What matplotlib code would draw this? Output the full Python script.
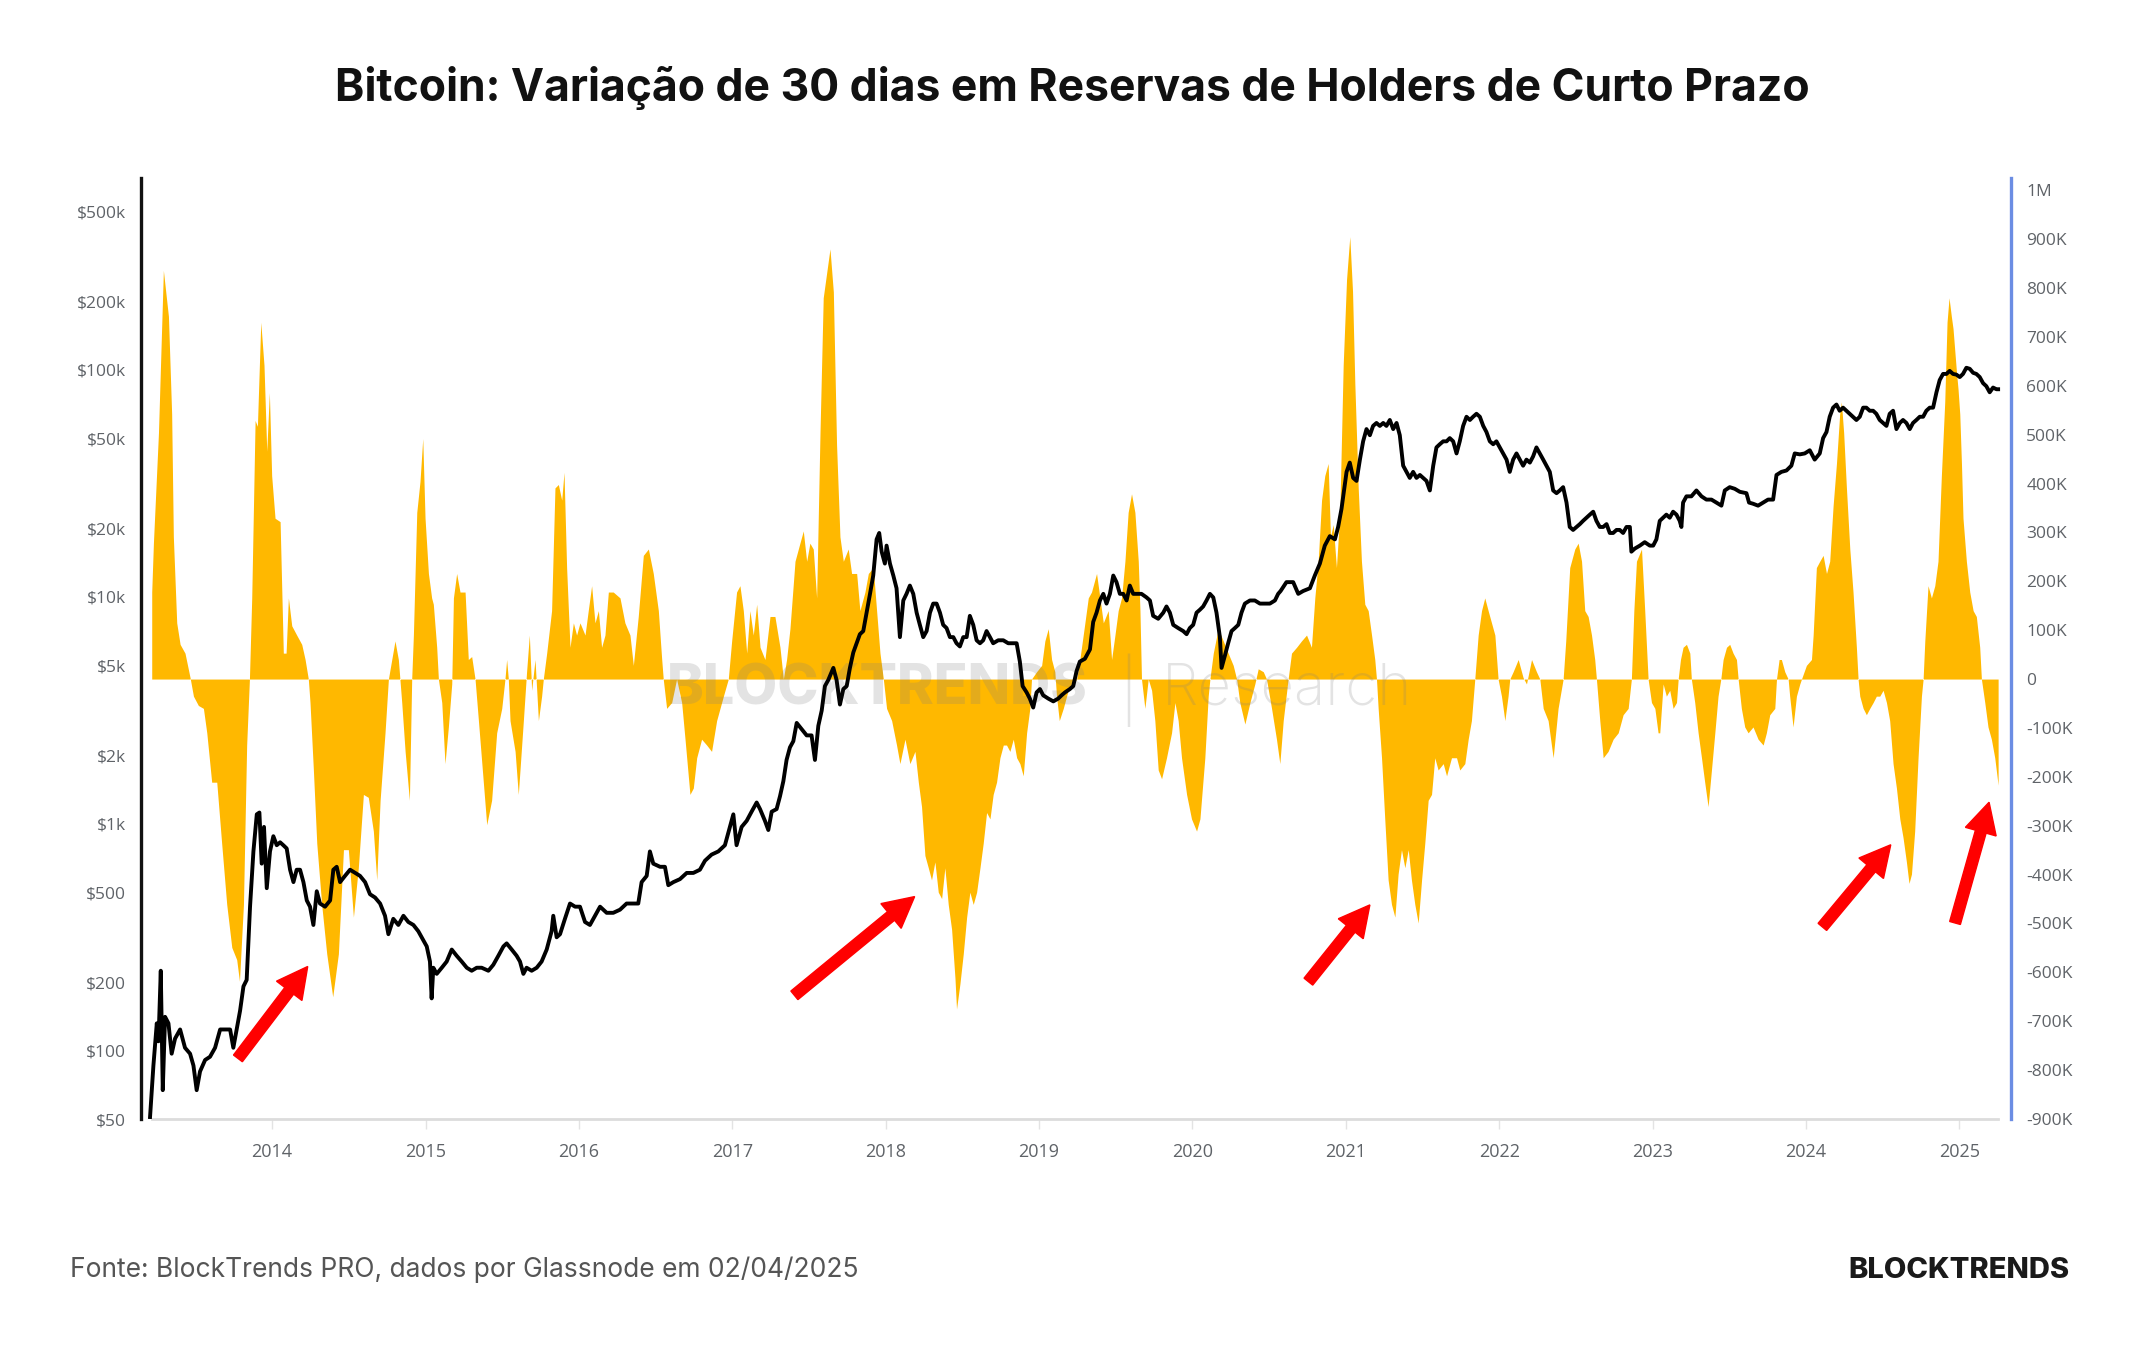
import matplotlib
matplotlib.use("Agg")
import matplotlib.pyplot as plt
from matplotlib.patches import FancyArrowPatch, ArrowStyle
from matplotlib.ticker import FixedLocator, NullLocator, FuncFormatter

plt.rcParams["font.family"] = ["Open Sans", "DejaVu Sans"]

TITLE = "Bitcoin: Variação de 30 dias em Reservas de Holders de Curto Prazo"
SOURCE = "Fonte: BlockTrends PRO, dados por Glassnode em 02/04/2025"

# 30-day change in short-term holder reserves (thousands of BTC), x in decimal years
sth_year = [
    2013.215, 2013.226, 2013.259, 2013.291, 2013.324, 2013.345, 2013.356, 2013.378, 2013.400, 2013.432,
    2013.465, 2013.487, 2013.519, 2013.552, 2013.574, 2013.606, 2013.639, 2013.671, 2013.704, 2013.737,
    2013.769, 2013.787, 2013.813, 2013.834, 2013.852, 2013.867, 2013.889, 2013.904, 2013.926, 2013.947,
    2013.965, 2013.982, 2013.997, 2014.019, 2014.052, 2014.073, 2014.091, 2014.106, 2014.128, 2014.160,
    2014.193, 2014.215, 2014.236, 2014.247, 2014.269, 2014.291, 2014.323, 2014.356, 2014.395, 2014.432,
    2014.465, 2014.497, 2014.530, 2014.562, 2014.595, 2014.627, 2014.660, 2014.682, 2014.704, 2014.736,
    2014.758, 2014.780, 2014.801, 2014.823, 2014.845, 2014.867, 2014.895, 2014.910, 2014.921, 2014.943,
    2014.964, 2014.982, 2014.997, 2015.019, 2015.040, 2015.051, 2015.073, 2015.084, 2015.106, 2015.127,
    2015.149, 2015.171, 2015.182, 2015.203, 2015.225, 2015.258, 2015.279, 2015.301, 2015.323, 2015.345,
    2015.377, 2015.399, 2015.431, 2015.464, 2015.497, 2015.518, 2015.529, 2015.540, 2015.551, 2015.584,
    2015.605, 2015.616, 2015.638, 2015.659, 2015.677, 2015.692, 2015.714, 2015.736, 2015.757, 2015.768,
    2015.790, 2015.822, 2015.844, 2015.866, 2015.888, 2015.903, 2015.920, 2015.942, 2015.964, 2015.985,
    2016.007, 2016.040, 2016.061, 2016.083, 2016.105, 2016.127, 2016.148, 2016.170, 2016.192, 2016.224,
    2016.268, 2016.300, 2016.333, 2016.355, 2016.387, 2016.420, 2016.453, 2016.485, 2016.518, 2016.540,
    2016.550, 2016.572, 2016.605, 2016.637, 2016.670, 2016.692, 2016.724, 2016.746, 2016.768, 2016.800,
    2016.833, 2016.865, 2016.898, 2016.942, 2016.974, 2016.996, 2017.028, 2017.050, 2017.072, 2017.094,
    2017.115, 2017.137, 2017.159, 2017.181, 2017.213, 2017.246, 2017.278, 2017.311, 2017.333, 2017.354,
    2017.376, 2017.409, 2017.441, 2017.463, 2017.485, 2017.506, 2017.528, 2017.550, 2017.572, 2017.593,
    2017.615, 2017.637, 2017.659, 2017.680, 2017.702, 2017.724, 2017.756, 2017.778, 2017.811, 2017.832,
    2017.865, 2017.887, 2017.919, 2017.941, 2017.963, 2017.985, 2018.006, 2018.039, 2018.071, 2018.093,
    2018.126, 2018.158, 2018.191, 2018.213, 2018.234, 2018.256, 2018.278, 2018.299, 2018.321, 2018.343,
    2018.365, 2018.386, 2018.408, 2018.430, 2018.452, 2018.462, 2018.484, 2018.506, 2018.528, 2018.549,
    2018.571, 2018.593, 2018.615, 2018.636, 2018.658, 2018.680, 2018.701, 2018.723, 2018.745, 2018.767,
    2018.788, 2018.810, 2018.832, 2018.854, 2018.875, 2018.897, 2018.919, 2018.940, 2018.951, 2018.984,
    2019.017, 2019.038, 2019.060, 2019.082, 2019.103, 2019.114, 2019.132, 2019.158, 2019.190, 2019.223,
    2019.245, 2019.266, 2019.299, 2019.321, 2019.342, 2019.375, 2019.397, 2019.419, 2019.451, 2019.473,
    2019.495, 2019.516, 2019.538, 2019.560, 2019.581, 2019.603, 2019.625, 2019.647, 2019.658, 2019.668,
    2019.690, 2019.712, 2019.734, 2019.755, 2019.777, 2019.799, 2019.831, 2019.864, 2019.886, 2019.907,
    2019.929, 2019.962, 2019.994, 2020.027, 2020.049, 2020.081, 2020.103, 2020.114, 2020.136, 2020.168,
    2020.201, 2020.233, 2020.266, 2020.288, 2020.309, 2020.342, 2020.375, 2020.407, 2020.429, 2020.462,
    2020.483, 2020.516, 2020.548, 2020.570, 2020.592, 2020.624, 2020.646, 2020.679, 2020.711, 2020.744,
    2020.776, 2020.798, 2020.820, 2020.842, 2020.863, 2020.885, 2020.900, 2020.918, 2020.939, 2020.961,
    2020.983, 2021.005, 2021.026, 2021.044, 2021.059, 2021.081, 2021.102, 2021.124, 2021.146, 2021.168,
    2021.189, 2021.200, 2021.211, 2021.233, 2021.254, 2021.276, 2021.298, 2021.320, 2021.341, 2021.363,
    2021.385, 2021.407, 2021.428, 2021.450, 2021.472, 2021.494, 2021.515, 2021.537, 2021.559, 2021.580,
    2021.602, 2021.635, 2021.657, 2021.689, 2021.722, 2021.743, 2021.776, 2021.798, 2021.819, 2021.841,
    2021.863, 2021.885, 2021.906, 2021.928, 2021.950, 2021.972, 2021.993, 2022.015, 2022.037, 2022.058,
    2022.069, 2022.091, 2022.124, 2022.156, 2022.178, 2022.211, 2022.243, 2022.265, 2022.287, 2022.319,
    2022.352, 2022.384, 2022.417, 2022.434, 2022.460, 2022.493, 2022.515, 2022.537, 2022.558, 2022.580,
    2022.602, 2022.623, 2022.634, 2022.656, 2022.678, 2022.710, 2022.743, 2022.776, 2022.808, 2022.841,
    2022.862, 2022.878, 2022.895, 2022.928, 2022.949, 2022.971, 2022.993, 2023.015, 2023.036, 2023.047,
    2023.069, 2023.090, 2023.112, 2023.134, 2023.156, 2023.167, 2023.182, 2023.199, 2023.221, 2023.243,
    2023.253, 2023.275, 2023.297, 2023.319, 2023.340, 2023.362, 2023.384, 2023.406, 2023.427, 2023.445,
    2023.460, 2023.482, 2023.503, 2023.525, 2023.547, 2023.558, 2023.579, 2023.601, 2023.623, 2023.655,
    2023.688, 2023.721, 2023.742, 2023.764, 2023.797, 2023.808, 2023.825, 2023.840, 2023.862, 2023.884,
    2023.894, 2023.916, 2023.938, 2023.960, 2023.971, 2024.003, 2024.036, 2024.047, 2024.068, 2024.090,
    2024.112, 2024.134, 2024.155, 2024.177, 2024.199, 2024.220, 2024.231, 2024.246, 2024.264, 2024.286,
    2024.307, 2024.329, 2024.340, 2024.351, 2024.373, 2024.394, 2024.416, 2024.438, 2024.459, 2024.481,
    2024.503, 2024.525, 2024.546, 2024.568, 2024.590, 2024.612, 2024.633, 2024.655, 2024.672, 2024.688,
    2024.709, 2024.731, 2024.753, 2024.764, 2024.775, 2024.796, 2024.818, 2024.840, 2024.861, 2024.883,
    2024.905, 2024.920, 2024.933, 2024.948, 2024.959, 2024.981, 2024.992, 2025.003, 2025.014, 2025.024,
    2025.046, 2025.068, 2025.090, 2025.111, 2025.133, 2025.144, 2025.166, 2025.187, 2025.209, 2025.231,
    2025.253,
]
sth_change_k = [
    178, 278, 504, 836, 742, 542, 291, 115, 71, 53,
    3, -35, -54, -60, -110, -211, -211, -336, -461, -549,
    -574, -618, -461, -135, 0, 166, 529, 517, 730, 642,
    466, 586, 416, 329, 322, 53, 53, 166, 109, 90,
    71, 40, 0, -48, -186, -336, -461, -562, -650, -562,
    -349, -349, -487, -386, -236, -242, -311, -411, -248, -110,
    0, 40, 78, 40, -48, -148, -248, 0, 90, 341,
    404, 492, 329, 216, 166, 153, 65, 0, -48, -173,
    -98, -10, 166, 216, 178, 178, 40, 46, 0, -85,
    -211, -298, -248, -110, -60, 0, 40, 0, -85, -148,
    -236, -186, -85, 15, 90, -23, 40, -85, -35, 0,
    53, 140, 391, 398, 366, 423, 228, 65, 115, 90,
    115, 90, 140, 191, 115, 140, 65, 90, 178, 178,
    166, 115, 90, 28, 128, 253, 266, 216, 140, 40,
    0, -60, -48, 0, -48, -123, -236, -223, -161, -123,
    -135, -148, -85, -35, 0, 78, 178, 191, 140, 53,
    140, 90, 153, 65, 40, 128, 128, 65, 0, 40,
    103, 241, 278, 303, 241, 278, 266, 166, 504, 780,
    830, 880, 792, 479, 291, 241, 266, 216, 216, 140,
    178, 216, 228, 140, 53, 0, -60, -85, -135, -173,
    -123, -173, -148, -211, -261, -361, -386, -411, -374, -436,
    -449, -386, -461, -512, -612, -675, -624, -562, -487, -436,
    -461, -436, -386, -336, -273, -286, -236, -211, -161, -135,
    -135, -148, -123, -161, -173, -198, -110, -60, 0, 15,
    28, 78, 103, 40, 15, -35, -85, -60, -23, -10,
    0, 40, 115, 166, 178, 216, 166, 115, 140, 40,
    90, 140, 166, 241, 341, 379, 341, 241, 140, 0,
    -60, 0, -23, -85, -186, -204, -161, -110, -48, -85,
    -161, -236, -286, -311, -286, -161, -35, 0, 53, 103,
    78, 53, 28, 0, -48, -92, -48, -10, 21, 15,
    0, -60, -123, -173, -85, 0, 53, 65, 78, 90,
    65, 166, 241, 366, 416, 441, 291, 316, 228, 341,
    642, 818, 905, 793, 604, 391, 241, 153, 140, 90,
    40, 0, -60, -161, -286, -411, -461, -487, -399, -349,
    -386, -349, -411, -461, -499, -411, -336, -248, -236, -161,
    -186, -173, -198, -161, -161, -186, -173, -123, -85, 0,
    90, 140, 166, 140, 115, 90, 0, -35, -85, -35,
    0, 15, 40, 3, -10, 40, 15, 0, -60, -85,
    -161, -60, 0, 78, 228, 266, 278, 241, 140, 128,
    90, 40, 0, -85, -161, -148, -123, -110, -73, -60,
    0, 140, 241, 266, 140, 0, -48, -60, -110, -110,
    -10, -35, -23, -60, -48, 0, 40, 65, 71, 53,
    0, -48, -110, -161, -211, -261, -186, -110, -35, 0,
    40, 65, 71, 53, 40, 0, -60, -98, -110, -98,
    -123, -135, -110, -73, -60, 0, 40, 40, 15, 0,
    -35, -98, -35, -10, 0, 28, 40, 90, 228, 241,
    253, 216, 241, 354, 441, 542, 567, 504, 391, 266,
    178, 65, 0, -35, -60, -73, -60, -48, -35, -35,
    -23, -48, -85, -173, -223, -286, -324, -374, -418, -399,
    -311, -161, -35, 0, 78, 191, 166, 191, 241, 416,
    567, 730, 780, 742, 717, 630, 592, 542, 441, 329,
    241, 178, 140, 128, 65, 0, -48, -98, -123, -161,
    -217,
]

# BTC price (USD, log scale)
price_year = [
    2013.204, 2013.226, 2013.248, 2013.259, 2013.274, 2013.287, 2013.302, 2013.324, 2013.345, 2013.367,
    2013.400, 2013.432, 2013.465, 2013.487, 2013.508, 2013.530, 2013.563, 2013.595, 2013.628, 2013.661,
    2013.693, 2013.726, 2013.747, 2013.769, 2013.791, 2013.813, 2013.834, 2013.856, 2013.878, 2013.900,
    2013.917, 2013.932, 2013.947, 2013.965, 2013.986, 2014.008, 2014.030, 2014.052, 2014.073, 2014.095,
    2014.117, 2014.139, 2014.160, 2014.182, 2014.204, 2014.226, 2014.247, 2014.269, 2014.291, 2014.312,
    2014.345, 2014.378, 2014.399, 2014.421, 2014.443, 2014.475, 2014.508, 2014.541, 2014.573, 2014.606,
    2014.638, 2014.671, 2014.704, 2014.736, 2014.758, 2014.790, 2014.823, 2014.856, 2014.888, 2014.921,
    2014.953, 2014.986, 2015.008, 2015.029, 2015.040, 2015.051, 2015.073, 2015.106, 2015.138, 2015.171,
    2015.203, 2015.236, 2015.269, 2015.301, 2015.334, 2015.366, 2015.410, 2015.442, 2015.475, 2015.508,
    2015.529, 2015.562, 2015.594, 2015.616, 2015.638, 2015.659, 2015.692, 2015.725, 2015.757, 2015.790,
    2015.822, 2015.833, 2015.855, 2015.877, 2015.909, 2015.942, 2015.975, 2016.007, 2016.040, 2016.072,
    2016.105, 2016.138, 2016.181, 2016.224, 2016.268, 2016.311, 2016.355, 2016.387, 2016.409, 2016.442,
    2016.463, 2016.485, 2016.529, 2016.561, 2016.583, 2016.616, 2016.659, 2016.703, 2016.746, 2016.789,
    2016.822, 2016.865, 2016.909, 2016.952, 2016.974, 2017.007, 2017.028, 2017.061, 2017.094, 2017.126,
    2017.159, 2017.181, 2017.213, 2017.235, 2017.257, 2017.289, 2017.311, 2017.333, 2017.354, 2017.376,
    2017.398, 2017.420, 2017.452, 2017.485, 2017.517, 2017.539, 2017.561, 2017.583, 2017.604, 2017.626,
    2017.659, 2017.680, 2017.702, 2017.724, 2017.746, 2017.767, 2017.789, 2017.811, 2017.832, 2017.854,
    2017.876, 2017.898, 2017.919, 2017.941, 2017.958, 2017.974, 2017.995, 2018.006, 2018.028, 2018.050,
    2018.071, 2018.093, 2018.115, 2018.136, 2018.158, 2018.180, 2018.202, 2018.223, 2018.245, 2018.267,
    2018.289, 2018.310, 2018.332, 2018.354, 2018.375, 2018.397, 2018.419, 2018.441, 2018.462, 2018.484,
    2018.506, 2018.528, 2018.549, 2018.571, 2018.593, 2018.615, 2018.636, 2018.658, 2018.680, 2018.701,
    2018.734, 2018.767, 2018.799, 2018.832, 2018.854, 2018.875, 2018.893, 2018.919, 2018.940, 2018.962,
    2018.984, 2019.006, 2019.027, 2019.060, 2019.093, 2019.125, 2019.147, 2019.169, 2019.201, 2019.223,
    2019.245, 2019.266, 2019.299, 2019.332, 2019.353, 2019.375, 2019.397, 2019.419, 2019.440, 2019.462,
    2019.484, 2019.505, 2019.527, 2019.549, 2019.571, 2019.592, 2019.614, 2019.636, 2019.668, 2019.701,
    2019.723, 2019.744, 2019.777, 2019.810, 2019.831, 2019.853, 2019.875, 2019.907, 2019.940, 2019.962,
    2019.983, 2020.005, 2020.027, 2020.049, 2020.070, 2020.092, 2020.114, 2020.136, 2020.157, 2020.179,
    2020.190, 2020.212, 2020.233, 2020.255, 2020.277, 2020.299, 2020.320, 2020.342, 2020.375, 2020.407,
    2020.440, 2020.472, 2020.505, 2020.538, 2020.559, 2020.575, 2020.613, 2020.657, 2020.690, 2020.722,
    2020.766, 2020.798, 2020.831, 2020.863, 2020.896, 2020.929, 2020.950, 2020.972, 2021.005, 2021.026,
    2021.048, 2021.070, 2021.092, 2021.113, 2021.135, 2021.157, 2021.178, 2021.200, 2021.222, 2021.244,
    2021.265, 2021.287, 2021.309, 2021.331, 2021.352, 2021.374, 2021.396, 2021.417, 2021.439, 2021.461,
    2021.483, 2021.504, 2021.526, 2021.548, 2021.570, 2021.591, 2021.613, 2021.635, 2021.657, 2021.678,
    2021.700, 2021.722, 2021.743, 2021.765, 2021.787, 2021.809, 2021.830, 2021.852, 2021.874, 2021.896,
    2021.917, 2021.939, 2021.961, 2021.982, 2022.004, 2022.026, 2022.048, 2022.069, 2022.091, 2022.113,
    2022.135, 2022.156, 2022.178, 2022.200, 2022.221, 2022.243, 2022.265, 2022.287, 2022.308, 2022.330,
    2022.352, 2022.374, 2022.395, 2022.417, 2022.439, 2022.460, 2022.482, 2022.504, 2022.526, 2022.547,
    2022.569, 2022.591, 2022.613, 2022.634, 2022.656, 2022.678, 2022.700, 2022.721, 2022.743, 2022.765,
    2022.786, 2022.808, 2022.830, 2022.852, 2022.862, 2022.884, 2022.917, 2022.949, 2022.982, 2023.004,
    2023.025, 2023.047, 2023.069, 2023.090, 2023.112, 2023.134, 2023.156, 2023.177, 2023.188, 2023.199,
    2023.221, 2023.253, 2023.286, 2023.319, 2023.351, 2023.384, 2023.416, 2023.449, 2023.471, 2023.503,
    2023.536, 2023.569, 2023.612, 2023.629, 2023.655, 2023.688, 2023.721, 2023.753, 2023.786, 2023.808,
    2023.840, 2023.873, 2023.905, 2023.927, 2023.960, 2023.992, 2024.025, 2024.057, 2024.090, 2024.112,
    2024.134, 2024.155, 2024.177, 2024.199, 2024.220, 2024.242, 2024.264, 2024.286, 2024.307, 2024.329,
    2024.351, 2024.373, 2024.394, 2024.416, 2024.438, 2024.459, 2024.481, 2024.503, 2024.525, 2024.546,
    2024.568, 2024.590, 2024.612, 2024.633, 2024.655, 2024.677, 2024.698, 2024.720, 2024.742, 2024.764,
    2024.785, 2024.807, 2024.829, 2024.851, 2024.872, 2024.894, 2024.916, 2024.937, 2024.959, 2024.981,
    2025.003, 2025.024, 2025.046, 2025.068, 2025.090, 2025.111, 2025.133, 2025.155, 2025.176, 2025.198,
    2025.220, 2025.242, 2025.253,
]
price_usd = [
    51, 86, 132, 110, 225, 67, 141, 132, 97, 113,
    124, 103, 97, 86, 67, 81, 91, 94, 103, 124,
    124, 124, 103, 124, 150, 192, 205, 431, 755, 1100,
    1120, 667, 968, 520, 755, 881, 804, 828, 804, 778,
    627, 553, 627, 627, 553, 459, 431, 358, 504, 445,
    431, 459, 627, 646, 553, 589, 627, 607, 589, 553,
    489, 473, 445, 393, 326, 381, 358, 393, 369, 358,
    336, 306, 288, 247, 170, 232, 218, 232, 247, 279,
    262, 247, 232, 225, 232, 232, 225, 239, 262, 288,
    297, 279, 262, 247, 218, 232, 225, 232, 247, 279,
    336, 393, 316, 326, 381, 445, 431, 431, 369, 358,
    393, 431, 405, 405, 418, 445, 445, 445, 553, 589,
    755, 667, 646, 646, 536, 553, 570, 607, 607, 627,
    687, 731, 755, 804, 910, 1100, 804, 968, 1030, 1130,
    1240, 1160, 1030, 938, 1130, 1160, 1320, 1540, 1910, 2170,
    2310, 2780, 2610, 2450, 2450, 1910, 2700, 3150, 4040, 4300,
    4860, 4300, 3350, 3920, 4040, 4860, 5680, 6240, 6840, 7060,
    8510, 10300, 12400, 17900, 19100, 15800, 14000, 16800, 14000, 12400,
    10900, 6640, 9630, 10300, 11200, 10300, 8510, 7520, 6640, 7060,
    8510, 9330, 9330, 8510, 7520, 7280, 6640, 6640, 6240, 6040,
    6640, 6640, 8240, 7520, 6430, 6240, 6430, 7060, 6640, 6240,
    6430, 6430, 6240, 6240, 6240, 5180, 4040, 3790, 3560, 3250,
    3790, 3920, 3680, 3560, 3460, 3560, 3680, 3790, 3920, 4040,
    4710, 5180, 5330, 5860, 7740, 8510, 9630, 10300, 9330, 10300,
    12400, 11600, 10300, 10300, 9630, 11200, 10300, 10300, 10300, 9930,
    9630, 8240, 8000, 8510, 9060, 8510, 7520, 7280, 7060, 6840,
    7280, 7520, 8510, 8770, 9060, 9630, 10300, 9930, 8510, 6640,
    4860, 5510, 6240, 7060, 7280, 7520, 8510, 9330, 9630, 9630,
    9330, 9330, 9330, 9630, 10300, 10600, 11600, 11600, 10300, 10600,
    10900, 12400, 14000, 16800, 18500, 17900, 20300, 24400, 35500, 39000,
    33400, 32400, 40200, 48400, 54800, 51500, 56600, 58300, 56600, 58300,
    56600, 60100, 54800, 58300, 51500, 37800, 35500, 33400, 35500, 33400,
    34400, 33400, 32400, 29400, 37800, 45500, 47000, 48400, 48400, 50000,
    48400, 42800, 48400, 56600, 62100, 60100, 62100, 64000, 62100, 56600,
    53200, 48400, 47000, 48400, 45500, 42800, 40200, 35500, 40200, 42800,
    40200, 37800, 40200, 39000, 41500, 45500, 42800, 40200, 37800, 35500,
    29400, 28600, 29400, 30400, 26000, 20300, 19700, 20300, 20900, 21600,
    22300, 23000, 23700, 21600, 20300, 20300, 20900, 19100, 19100, 19700,
    19700, 19100, 20300, 20300, 15800, 16300, 16800, 17400, 16800, 16800,
    17900, 21600, 22300, 23000, 22300, 23700, 23000, 21600, 20300, 26000,
    27700, 27700, 29400, 27700, 26800, 26800, 26000, 25200, 29400, 30400,
    29900, 29000, 28600, 26000, 25700, 25200, 26000, 26800, 26800, 34400,
    35500, 36000, 37800, 42800, 42400, 42800, 44200, 40200, 42800, 50000,
    53200, 62100, 68100, 70300, 66000, 68100, 66000, 64000, 62100, 60100,
    62100, 68100, 68100, 66000, 66000, 64000, 60100, 58300, 56600, 64000,
    66000, 54800, 58300, 60100, 58300, 54800, 58300, 60100, 62100, 62100,
    66000, 68100, 68100, 79600, 90100, 95900, 95900, 98900, 95900, 95200,
    92900, 95900, 102100, 101000, 97000, 95900, 92900, 87300, 84700, 79600,
    83500, 82100, 82100,
]

year_ticks = list(range(2014, 2026))
price_ticks = [50, 100, 200, 500, 1000, 2000, 5000, 10000, 20000, 50000, 100000, 200000, 500000]
price_tick_labels = ["$50", "$100", "$200", "$500", "$1k", "$2k", "$5k", "$10k", "$20k",
                     "$50k", "$100k", "$200k", "$500k"]
change_ticks_k = list(range(-900, 1001, 100))

# red arrows: (tail year, tail value k) -> (head year, head value k)
arrow_tail_year = [2013.777, 2017.405, 2020.756, 2024.107, 2024.972]
arrow_tail_k = [-776, -647, -619, -507, -499]
arrow_head_year = [2014.232, 2018.189, 2021.157, 2024.553, 2025.194]
arrow_head_k = [-588, -445, -462, -339, -252]

ORANGE = "#FFB800"
GREY = "#5f6368"

fig = plt.figure(figsize=(21.44, 13.5), dpi=100)
ax = fig.add_axes([0.06576, 0.17111, 0.87221, 0.69704])
ax2 = ax.twinx()
ax.yaxis.tick_right()
ax2.yaxis.tick_left()

# orange area (right scale)
ax.fill_between(sth_year, 0, sth_change_k, color=ORANGE, linewidth=0, zorder=1)
ax.set_ylim(-900, 1025)
ax.yaxis.set_major_locator(FixedLocator(change_ticks_k))
ax.yaxis.set_major_formatter(FuncFormatter(
    lambda v, p: "1M" if v >= 1000 else ("0" if v == 0 else f"{v:.0f}K")))
ax.tick_params(axis="y", length=0, pad=11, labelsize=12.5, labelcolor=GREY)
ax.set_xlim(2013.145, 2025.337)
ax.set_xticks(year_ticks)
ax.set_xticklabels([str(y) for y in year_ticks])
ax.tick_params(axis="x", length=7, width=1, color="#e3e3e3", pad=10, labelsize=13, labelcolor=GREY)

for s in ["left", "top"]:
    ax.spines[s].set_visible(False)
ax.spines["right"].set_color("#6b8de3")
ax.spines["right"].set_linewidth(2.4)
ax.spines["bottom"].set_color("#dcdcdc")
ax.spines["bottom"].set_linewidth(2)
ax.spines["bottom"].set_bounds(sth_year[0], sth_year[-1])

# watermark between area and price line
wm_kw = dict(transform=ax.transAxes, va="center", zorder=5, color="#808080", alpha=0.22)
ax.text(0.394, 0.456, "BLOCKTRENDS", ha="center", fontsize=40, fontweight="heavy",
        family=["Inter", "DejaVu Sans"], **wm_kw)
ax.text(0.528, 0.456, "|", ha="center", fontsize=44, fontweight="light",
        family=["Inter", "DejaVu Sans"], **wm_kw)
ax.text(0.613, 0.456, "Research", ha="center", fontsize=42, fontweight="light",
        family=["Inter", "DejaVu Sans"], **wm_kw)

# price line (left log scale)
ax2.plot(price_year, price_usd, color="black", linewidth=2.8, zorder=3, solid_joinstyle="round")
ax2.set_yscale("log")
ax2.set_ylim(50, 700000)
ax2.yaxis.set_major_locator(FixedLocator(price_ticks))
ax2.yaxis.set_minor_locator(NullLocator())
ax2.set_yticklabels(price_tick_labels)
ax2.tick_params(axis="y", which="both", length=0, pad=11, labelsize=12.5, labelcolor=GREY)
for s in ["right", "top", "bottom"]:
    ax2.spines[s].set_visible(False)
ax2.spines["left"].set_color("#111111")
ax2.spines["left"].set_linewidth(2.4)

style = ArrowStyle.Simple(head_length=2.2, head_width=2.3, tail_width=0.8)
for tx, tv, hx, hv in zip(arrow_tail_year, arrow_tail_k, arrow_head_year, arrow_head_k):
    arr = FancyArrowPatch((tx, tv), (hx, hv), arrowstyle=style, mutation_scale=10,
                          color="#ff0000", transform=ax.transData, zorder=6,
                          shrinkA=0, shrinkB=0, capstyle="round", joinstyle="miter")
    ax2.add_patch(arr)

fig.text(0.5, 1 - 87.5 / 1350, TITLE, ha="center", va="center", fontsize=32,
         fontweight="bold", color="#111111", family=["Inter", "DejaVu Sans"])
fig.text(70 / 2144, 1 - 1270 / 1350, SOURCE, ha="left", va="center", fontsize=19,
         color="#555555", family=["Inter", "DejaVu Sans"])
fig.text(2070 / 2144, 1 - 1270 / 1350, "BLOCKTRENDS", ha="right", va="center", fontsize=21,
         fontweight="heavy", color="#1a1a1a", family=["Inter", "DejaVu Sans"])

fig.savefig("out.png", dpi=100, facecolor="white")
